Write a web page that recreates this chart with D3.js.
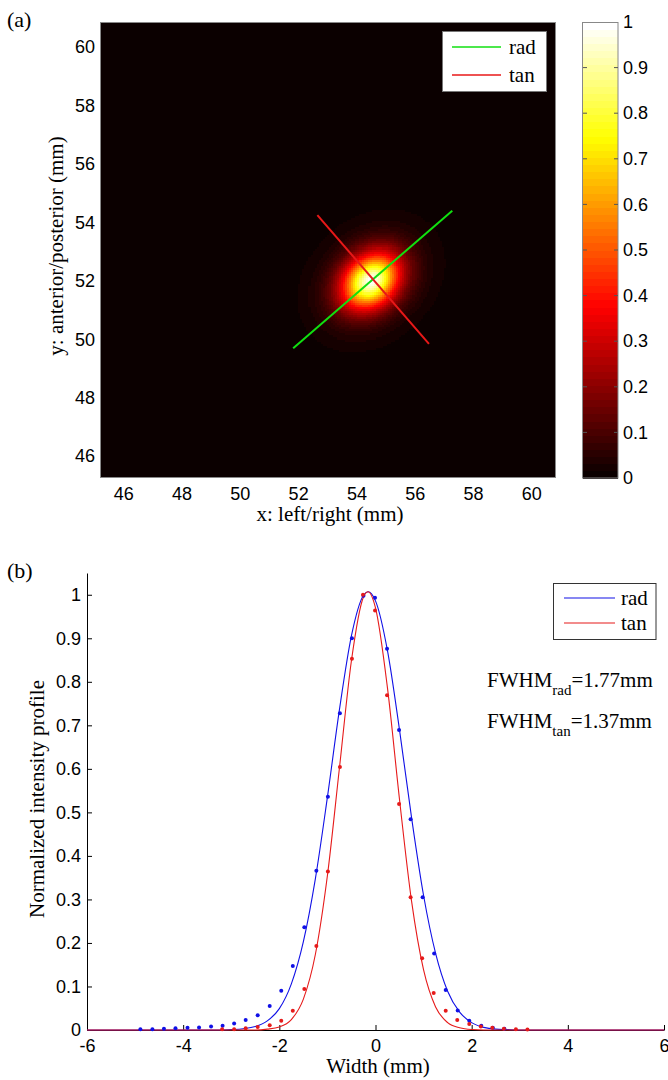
<!DOCTYPE html>
<html>
<head>
<meta charset="utf-8">
<script src="https://cdn.jsdelivr.net/npm/d3@7"></script>
<style>
body { margin: 0; background: #fff; }
svg { display: block; }
.tick text { font-family: "Liberation Sans", Arial, sans-serif; font-size: 18px; fill: #000; }
</style>
</head>
<body>
<div id="chart"></div>
<script>
// measured profile points, panel (b)
const radX = [-4.89, -4.64, -4.40, -4.16, -3.91, -3.67, -3.42, -3.18, -2.94, -2.70, -2.45, -2.20, -1.96, -1.72, -1.48, -1.23,
              -0.99, -0.74, -0.49, -0.25, -0.01, 0.24, 0.49, 0.73, 0.98, 1.22, 1.46, 1.71, 1.95, 2.20, 2.44, 2.68];
const radY = [0.002, 0.002, 0.003, 0.004, 0.005, 0.006, 0.008, 0.010, 0.015, 0.023, 0.034, 0.055, 0.090, 0.147, 0.236, 0.366,
              0.536, 0.728, 0.900, 0.998, 0.993, 0.876, 0.689, 0.484, 0.305, 0.176, 0.092, 0.045, 0.021, 0.010, 0.005, 0.003];
const tanX = [-3.19, -2.94, -2.70, -2.45, -2.20, -1.96, -1.72, -1.48, -1.23, -0.99, -0.74, -0.49, -0.26, -0.01,
              0.24, 0.49, 0.73, 0.97, 1.21, 1.46, 1.70, 1.95, 2.19, 2.43, 2.67, 2.92, 3.16];
const tanY = [0.002, 0.002, 0.004, 0.007, 0.011, 0.021, 0.044, 0.094, 0.193, 0.364, 0.604, 0.853, 1.000, 0.964,
              0.769, 0.519, 0.305, 0.165, 0.085, 0.044, 0.023, 0.014, 0.008, 0.005, 0.003, 0.002, 0.001];

// fitted curves
const fitX   = [-6, -3.25, -3, -2.75, -2.5, -2.25, -2, -1.75, -1.5, -1.25, -1, -0.75, -0.5, -0.25, -0.155,
                0, 0.25, 0.5, 0.75, 1, 1.25, 1.5, 1.75, 2, 2.25, 2.5, 2.75, 3, 6];
const fitRad = [0, 0, 0.001, 0.003, 0.008, 0.021, 0.049, 0.106, 0.203, 0.348, 0.535, 0.736, 0.906, 0.999, 1.007,
                0.986, 0.871, 0.689, 0.488, 0.309, 0.176, 0.089, 0.041, 0.017, 0.006, 0.002, 0.001, 0, 0];
const fitTan = [0, 0, 0, 0, 0, 0.002, 0.007, 0.024, 0.071, 0.174, 0.355, 0.602, 0.849, 0.995, 1.007,
                0.970, 0.785, 0.529, 0.296, 0.138, 0.053, 0.017, 0.005, 0.001, 0, 0, 0, 0, 0];

const fwhmNames = ["rad", "tan"];
const fwhmValues = [1.77, 1.37];

// panel (a): profile lines and spot centre (mm)
const radLine = [[51.83, 49.69], [57.29, 54.40]];
const tanLine = [[52.66, 54.25], [56.49, 49.84]];
const spotCenter = [54.50, 52.02];

const ticksA = [46, 48, 50, 52, 54, 56, 58, 60];
const cbTicks = [0, 0.1, 0.2, 0.3, 0.4, 0.5, 0.6, 0.7, 0.8, 0.9, 1];
const cbLabels = ["0", "0.1", "0.2", "0.3", "0.4", "0.5", "0.6", "0.7", "0.8", "0.9", "1"];
const xTicksB = [-6, -4, -2, 0, 2, 4, 6];
const xLabelsB = ["-6", "-4", "-2", "0", "2", "4", "6"];

const width = 668, height = 1080;
const serif = '"Liberation Serif", "Times New Roman", serif';

let svg = d3.select("#chart")
    .append("svg")
    .attr("width", width)
    .attr("height", height);

// ---------- (a) ----------
let xA = d3.scaleLinear().domain([45.2, 60.85]).range([100, 556]);
let yA = d3.scaleLinear().domain([45.25, 60.86]).range([478, 22]);

// MATLAB "hot", 64 levels
const hot = d3.scaleLinear().domain([0, 0.375, 0.75, 1]).range(["#0b0000", "#ff0000", "#ffff00", "#ffffff"]);
const color = t => hot(Math.max(0, Math.min(63, Math.floor(t * 64))) / 63);

svg.append("rect")
    .attr("x", xA(45.2)).attr("y", yA(60.86))
    .attr("width", xA(60.85) - xA(45.2))
    .attr("height", yA(45.25) - yA(60.86))
    .attr("fill", color(0));

// spot image: rad profile (wide-tailed side) swept on an ellipse, rad axis along the green line,
// squeezed by FWHM_rad / FWHM_tan along the red one
let radI = d3.scaleLinear().domain(radX).range(radY).clamp(true);
const peakX = fitX[d3.maxIndex(fitRad)];
const squeeze = fwhmValues[0] / fwhmValues[1];
const unit = l => {
    let dx = l[1][0] - l[0][0], dy = l[1][1] - l[0][1], n = Math.hypot(dx, dy);
    return [dx / n, dy / n];
};
const ur = unit(radLine), ut = unit(tanLine);

const step = 0.07;
let cells = [];
for (let gx = spotCenter[0] - 4; gx <= spotCenter[0] + 4; gx += step) {
    for (let gy = spotCenter[1] - 4; gy <= spotCenter[1] + 4; gy += step) {
        let dx = gx - spotCenter[0], dy = gy - spotCenter[1];
        let u = dx * ur[0] + dy * ur[1], w = (dx * ut[0] + dy * ut[1]) * squeeze;
        let v = radI(peakX - Math.hypot(u, w));
        if (v * 64 >= 1) cells.push({x: gx, y: gy, v: v});
    }
}

svg.append("g")
    .attr("shape-rendering", "crispEdges")
    .selectAll("rect")
    .data(cells)
    .join("rect")
    .attr("x", d => xA(d.x - step / 2))
    .attr("y", d => yA(d.y + step / 2))
    .attr("width", xA(step) - xA(0) + 0.7)
    .attr("height", yA(0) - yA(step) + 0.7)
    .attr("fill", d => color(d.v));

let lineA = d3.line().x(d => xA(d[0])).y(d => yA(d[1]));
svg.append("path").attr("d", lineA(radLine)).attr("stroke", "#10e010").attr("stroke-width", 2).attr("fill", "none");
svg.append("path").attr("d", lineA(tanLine)).attr("stroke", "#e81818").attr("stroke-width", 2).attr("fill", "none");

svg.append("rect")
    .attr("x", 100.5).attr("y", 22.5).attr("width", 455).attr("height", 455)
    .attr("fill", "none").attr("stroke", "#888");

svg.append("g")
    .attr("transform", "translate(0,478)")
    .call(d3.axisBottom(xA).tickValues(ticksA).tickSize(0).tickPadding(9))
    .call(g => g.select(".domain").remove());

svg.append("g")
    .attr("transform", "translate(100,0)")
    .call(d3.axisLeft(yA).tickValues(ticksA).tickSize(0).tickPadding(5))
    .call(g => g.select(".domain").remove());

svg.append("text")
    .attr("x", 330).attr("y", 521)
    .attr("text-anchor", "middle")
    .style("font-family", serif).style("font-size", "21px")
    .text("x: left/right (mm)");

svg.append("text")
    .attr("transform", "translate(63,246) rotate(-90)")
    .attr("text-anchor", "middle")
    .style("font-family", serif).style("font-size", "21px")
    .text("y: anterior/posterior (mm)");

svg.append("text").attr("x", 7).attr("y", 27)
    .style("font-family", serif).style("font-size", "22px").text("(a)");

// legend (a)
let legA = svg.append("g");
legA.append("rect").attr("x", 442.5).attr("y", 31.5).attr("width", 104).attr("height", 60)
    .attr("fill", "#fff").attr("stroke", "#777");
[["rad", "#10e010", 47], ["tan", "#e81818", 75]].forEach(([name, c, yy]) => {
    legA.append("line").attr("x1", 452).attr("x2", 501).attr("y1", yy).attr("y2", yy)
        .attr("stroke", c).attr("stroke-width", 1.5);
    legA.append("text").attr("x", 509).attr("y", yy + 7)
        .style("font-family", serif).style("font-size", "21px").text(name);
});

// colorbar
let yCb = d3.scaleLinear().domain([0, 1]).range([478, 22]);
let levels = d3.range(64);
svg.append("g")
    .attr("shape-rendering", "crispEdges")
    .selectAll("rect")
    .data(levels)
    .join("rect")
    .attr("x", 583)
    .attr("width", 35)
    .attr("y", d => yCb((d + 1) / 64))
    .attr("height", yCb(0) - yCb(1 / 64) + 0.5)
    .attr("fill", d => hot(d / 63));

svg.append("rect").attr("x", 582.5).attr("y", 22.5).attr("width", 35.5).attr("height", 455.5)
    .attr("fill", "none").attr("stroke", "#888");

svg.append("g")
    .selectAll("path")
    .data(cbTicks.slice(1, -1))
    .join("path")
    .attr("d", d => `M583,${yCb(d)}h4M618,${yCb(d)}h-4`)
    .attr("stroke", "#555");

svg.append("g")
    .attr("transform", "translate(618,0)")
    .call(d3.axisRight(yCb).tickValues(cbTicks).tickFormat((d, i) => cbLabels[i]).tickSize(0).tickPadding(5))
    .call(g => g.select(".domain").remove());

// ---------- (b) ----------
let xB = d3.scaleLinear().domain([-6, 6]).range([87, 664]);
let yB = d3.scaleLinear().domain([0, 1.05]).range([1030, 573]);

svg.append("g")
    .attr("transform", "translate(0,1030)")
    .call(d3.axisBottom(xB).tickValues(xTicksB).tickFormat((d, i) => xLabelsB[i])
        .tickSizeInner(-5).tickSizeOuter(0).tickPadding(9));

svg.append("g")
    .attr("transform", "translate(87,0)")
    .call(d3.axisLeft(yB).tickValues(cbTicks).tickFormat((d, i) => cbLabels[i])
        .tickSizeInner(-5).tickSizeOuter(0).tickPadding(6));

let lineB = d3.line().x(d => xB(d[0])).y(d => yB(d[1])).curve(d3.curveMonotoneX);
svg.append("path").attr("d", lineB(d3.zip(fitX, fitRad)))
    .attr("fill", "none").attr("stroke", "#1010e6").attr("stroke-width", 1.1);
svg.append("path").attr("d", lineB(d3.zip(fitX, fitTan)))
    .attr("fill", "none").attr("stroke", "#e61a1a").attr("stroke-width", 1.1);

svg.append("g")
    .selectAll("circle")
    .data(d3.zip(radX, radY))
    .join("circle")
    .attr("cx", d => xB(d[0])).attr("cy", d => yB(d[1])).attr("r", 2)
    .attr("fill", "#1010e6");
svg.append("g")
    .selectAll("circle")
    .data(d3.zip(tanX, tanY))
    .join("circle")
    .attr("cx", d => xB(d[0])).attr("cy", d => yB(d[1])).attr("r", 2)
    .attr("fill", "#e61a1a");

svg.append("text")
    .attr("x", 378).attr("y", 1073)
    .attr("text-anchor", "middle")
    .style("font-family", serif).style("font-size", "21px")
    .text("Width (mm)");

svg.append("text")
    .attr("transform", "translate(44,799) rotate(-90)")
    .attr("text-anchor", "middle")
    .style("font-family", serif).style("font-size", "21px")
    .text("Normalized intensity profile");

svg.append("text").attr("x", 7).attr("y", 578)
    .style("font-family", serif).style("font-size", "22px").text("(b)");

// legend (b)
let legB = svg.append("g");
legB.append("rect").attr("x", 553.5).attr("y", 583.5).attr("width", 102.5).attr("height", 56)
    .attr("fill", "#fff").attr("stroke", "#333");
[["rad", "#1010e6", 598], ["tan", "#e61a1a", 623]].forEach(([name, c, yy]) => {
    legB.append("line").attr("x1", 564).attr("x2", 615).attr("y1", yy).attr("y2", yy)
        .attr("stroke", c).attr("stroke-width", 1.1);
    legB.append("text").attr("x", 621).attr("y", yy + 7)
        .style("font-family", serif).style("font-size", "21px").text(name);
});

// FWHM notes
fwhmNames.forEach((name, i) => {
    let t = svg.append("text")
        .attr("x", 487).attr("y", 687 + i * 41)
        .style("font-family", serif).style("font-size", "21px");
    t.append("tspan").text("FWHM");
    t.append("tspan").attr("dy", 8).style("font-size", "15px").text(name);
    t.append("tspan").attr("dy", -8).text("=" + fwhmValues[i].toFixed(2) + "mm");
});
</script>
</body>
</html>
